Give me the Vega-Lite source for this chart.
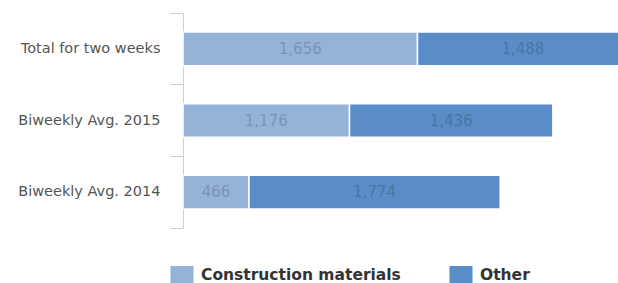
{
  "$schema": "https://vega.github.io/schema/vega-lite/v6.json",
  "width": 435,
  "height": 215,
  "autosize": {"type": "none"},
  "padding": {"left": 183, "top": 13, "right": 0, "bottom": 55},
  "background": "white",
  "config": {"view": {"stroke": null}},
  "data": {
    "values": [
      {"cat": "Total for two weeks", "type": "Construction materials", "value": 1656, "ord": 0},
      {"cat": "Total for two weeks", "type": "Other", "value": 1488, "ord": 1},
      {"cat": "Biweekly Avg. 2015", "type": "Construction materials", "value": 1176, "ord": 0},
      {"cat": "Biweekly Avg. 2015", "type": "Other", "value": 1436, "ord": 1},
      {"cat": "Biweekly Avg. 2014", "type": "Construction materials", "value": 466, "ord": 0},
      {"cat": "Biweekly Avg. 2014", "type": "Other", "value": 1774, "ord": 1}
    ]
  },
  "transform": [
    {"stack": "value", "groupby": ["cat"], "sort": [{"field": "ord"}], "as": ["v0", "v1"]},
    {"calculate": "(datum.v0 + datum.v1) / 2", "as": "mid"}
  ],
  "encoding": {
    "y": {
      "field": "cat",
      "type": "nominal",
      "sort": ["Total for two weeks", "Biweekly Avg. 2015", "Biweekly Avg. 2014"],
      "scale": {"paddingInner": 0, "paddingOuter": 0},
      "axis": {
        "title": null,
        "bandPosition": 1,
        "tickExtra": true,
        "domainColor": "#c3d1e3",
        "tickColor": "#c3d1e3",
        "tickSize": 13,
        "labelPadding": 10,
        "labelFont": "DejaVu Sans",
        "labelFontSize": 14.5,
        "labelColor": "#555555",
        "labelAlign": "right"
      }
    }
  },
  "layer": [
    {
      "mark": {"type": "bar", "clip": true, "stroke": "white", "strokeWidth": 1.5, "height": {"band": 0.47}},
      "encoding": {
        "x": {
          "field": "v0",
          "type": "quantitative",
          "scale": {"domain": [0, 3072], "nice": false},
          "axis": null
        },
        "x2": {"field": "v1"},
        "color": {
          "field": "type",
          "type": "nominal",
          "scale": {"domain": ["Construction materials", "Other"], "range": ["#95b2d7", "#5a8dc8"]},
          "legend": {
            "title": null,
            "orient": "none",
            "direction": "horizontal",
            "legendX": -10,
            "legendY": 253,
            "symbolType": "M-1.28,-1H1.28V1H-1.28Z",
            "symbolSize": 324,
            "symbolStrokeWidth": 0,
            "labelFont": "DejaVu Sans",
            "labelFontSize": 15.5,
            "labelFontWeight": "bold",
            "labelColor": "#333333",
            "labelOffset": 10,
            "labelLimit": 400,
            "columnPadding": 48
          }
        }
      }
    },
    {
      "mark": {"type": "text", "clip": true, "font": "DejaVu Sans", "fontSize": 15, "color": "#000000", "opacity": 0.17, "align": "center", "baseline": "middle"},
      "encoding": {
        "x": {"field": "mid", "type": "quantitative"},
        "text": {"field": "value", "type": "quantitative", "format": ","}
      }
    }
  ]
}
